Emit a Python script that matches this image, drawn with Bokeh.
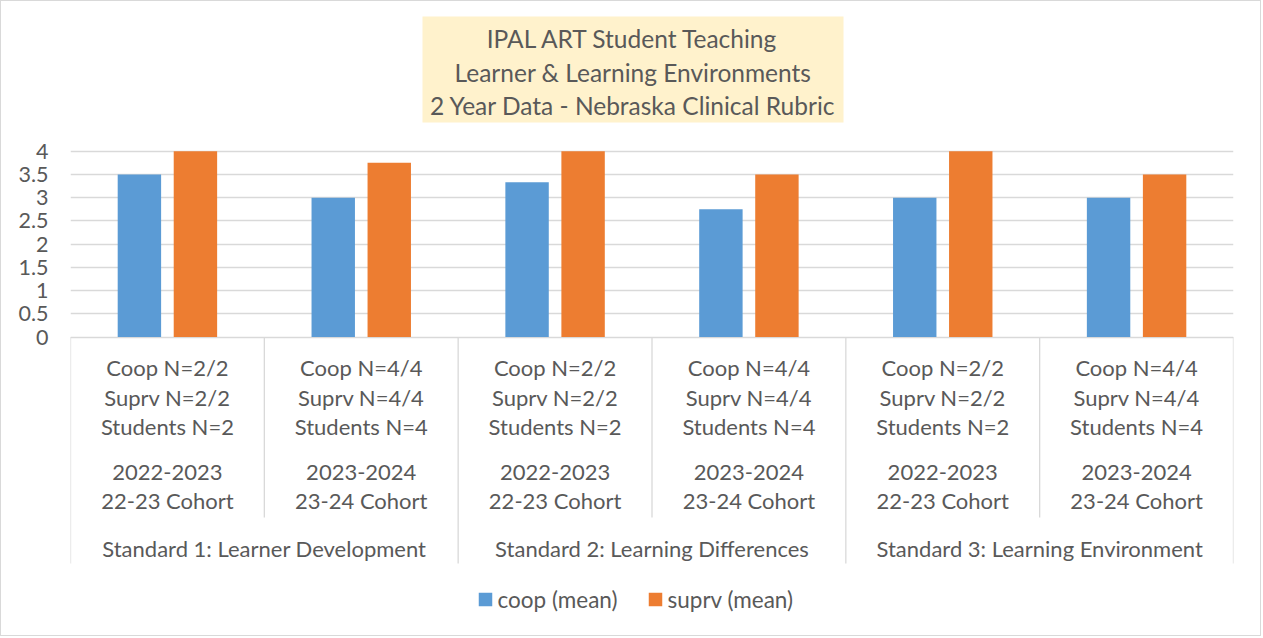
from bokeh.plotting import figure
from bokeh.models import Range1d, FixedTicker, ColumnDataSource
from bokeh.core.properties import value
from bokeh.embed import file_html
from bokeh.resources import INLINE

# ---------------- data ----------------
title_lines = ["IPAL ART Student Teaching",
               "Learner & Learning Environments",
               "2 Year Data - Nebraska Clinical Rubric"]
standards = ["Standard 1: Learner Development",
             "Standard 2: Learning Differences",
             "Standard 3: Learning Environment"]
cohort_labels = [
    ["Coop N=2/2", "Suprv N=2/2", "Students N=2", "2022-2023", "22-23 Cohort"],
    ["Coop N=4/4", "Suprv N=4/4", "Students N=4", "2023-2024", "23-24 Cohort"],
    ["Coop N=2/2", "Suprv N=2/2", "Students N=2", "2022-2023", "22-23 Cohort"],
    ["Coop N=4/4", "Suprv N=4/4", "Students N=4", "2023-2024", "23-24 Cohort"],
    ["Coop N=2/2", "Suprv N=2/2", "Students N=2", "2022-2023", "22-23 Cohort"],
    ["Coop N=4/4", "Suprv N=4/4", "Students N=4", "2023-2024", "23-24 Cohort"],
]
coop = [3.5, 3.0, 3.33, 2.75, 3.0, 3.0]
suprv = [4.0, 3.75, 4.0, 3.5, 4.0, 3.5]
series_names = ["coop (mean)", "suprv (mean)"]
y_ticks = [0, 0.5, 1, 1.5, 2, 2.5, 3, 3.5, 4]

# ---------------- style ----------------
BLUE = "#5B9BD5"
ORANGE = "#ED7D31"
TXT = "#595959"
GRID = "#D9D9D9"
FONT = value("Lato")

O = 1                                 # css border width
W, H = 1263 - 2 * O, 638 - 2 * O
LEFT = 70 - O                         # frame left (figure pixels)
RIGHT = W - (1233 - O)
n = len(coop)
CAT_W = (W - LEFT - RIGHT) / n        # pixels per category
PX_PER_UNIT = 46.45
ZERO_Y = 336.5 - O                    # figure pixel row of value 0


def X(px):   # page pixel -> x data
    return (px - O - LEFT) / CAT_W


def Y(py):   # page pixel -> y data
    return (ZERO_Y - (py - O)) / PX_PER_UNIT


p = figure(width=W, height=H, output_backend="svg", toolbar_location=None,
           x_range=Range1d(0, n), y_range=Range1d(Y(H + O), Y(O)),
           min_border_left=LEFT, min_border_right=RIGHT,
           min_border_top=0, min_border_bottom=0,
           styles={"border": "1px solid #D9D9D9"})
p.outline_line_color = None
p.xaxis.visible = False
p.xgrid.visible = False

ya = p.yaxis[0]
ya.ticker = FixedTicker(ticks=y_ticks)
ya.axis_line_color = None
ya.major_tick_line_color = None
ya.minor_tick_line_color = None
ya.major_tick_in = 0
ya.major_tick_out = 0
ya.major_label_standoff = 22
ya.major_label_text_font = "Lato"
ya.major_label_text_font_size = "21.5px"
ya.major_label_text_color = TXT

p.ygrid.ticker = FixedTicker(ticks=y_ticks)
p.ygrid.grid_line_color = GRID
p.ygrid.grid_line_width = 1.3

# ---------------- bars ----------------
off = 0.1445
bw = 0.224
centers = [i + 0.5 for i in range(n)]
src = ColumnDataSource(dict(
    xc=[c - off for c in centers], xs=[c + off for c in centers],
    coop=coop, suprv=suprv))
p.vbar(x="xc", top="coop", bottom=0, width=bw, source=src,
       fill_color=BLUE, line_color=None)
p.vbar(x="xs", top="suprv", bottom=0, width=bw, source=src,
       fill_color=ORANGE, line_color=None)

# ---------------- category axis (separators + labels) ----------------
sep_x, sep_y1 = [], []
for k in range(n + 1):
    sep_x.append(k)
    sep_y1.append(Y(563) if k % 2 == 0 else Y(517))
p.segment(x0=sep_x, y0=[0] * len(sep_x), x1=sep_x, y1=sep_y1,
          line_color=GRID, line_width=1.3)

line_rows = [367, 397, 426, 472, 500]
tx, ty, tt = [], [], []
for i, lines in enumerate(cohort_labels):
    for row, txt in zip(line_rows, lines):
        tx.append(centers[i])
        ty.append(Y(row))
        tt.append(txt)
for g, s in enumerate(standards):
    tx.append(2 * g + 1)
    ty.append(Y(548))
    tt.append(s)
p.text(x=tx, y=ty, text=tt, text_align="center", text_baseline="middle",
       text_font=FONT, text_font_size="22px", text_color=TXT)

# ---------------- title box ----------------
p.rect(x=[X((422 + 843) / 2)], y=[Y((16 + 122) / 2)],
       width=[X(843) - X(422)], height=[(122 - 16) / PX_PER_UNIT],
       fill_color="#FFF2CC", line_color=None)
p.text(x=[X(632.5)] * 3, y=[Y(38.3), Y(71.7), Y(105)], text=title_lines,
       text_align="center", text_baseline="middle",
       text_font=FONT, text_font_size="24.5px", text_color=TXT)

# ---------------- legend ----------------
leg_sq_x = [X(485), X(655)]
leg_tx_x = [X(497), X(667)]
p.scatter(x=leg_sq_x, y=[Y(599)] * 2, marker="square", size=13.5,
          fill_color=[BLUE, ORANGE], line_color=None)
p.text(x=leg_tx_x, y=[Y(599)] * 2, text=series_names, text_align="left",
       text_baseline="middle", text_font=FONT, text_font_size="22.5px",
       text_color=TXT)

open("out.html", "w").write(file_html(p, INLINE))
